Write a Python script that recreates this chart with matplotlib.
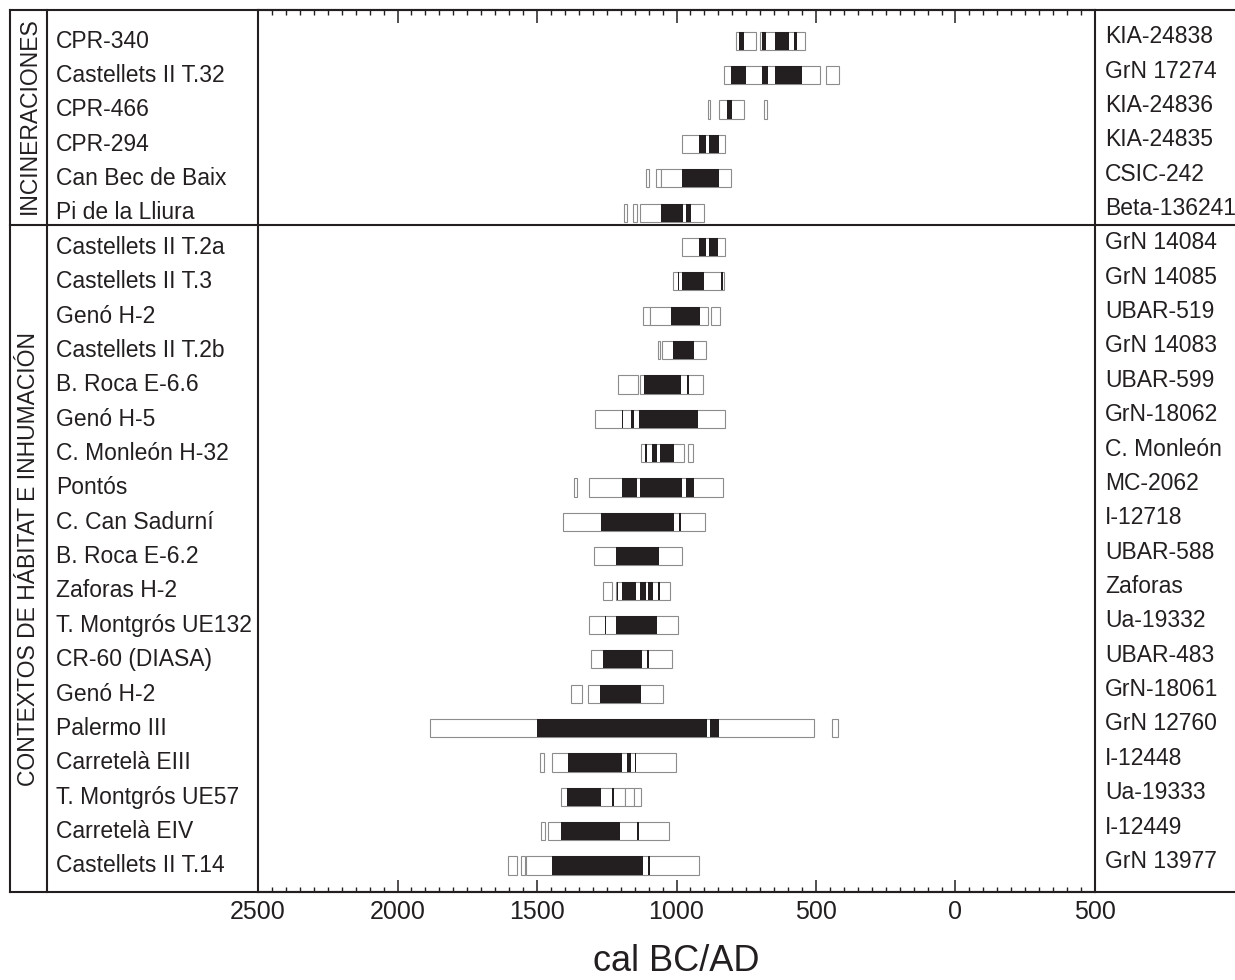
import numpy as np
import matplotlib
matplotlib.use('Agg')
import matplotlib.pyplot as plt
from matplotlib.lines import Line2D
from matplotlib.transforms import blended_transform_factory

plt.rcParams['font.family'] = ['Liberation Sans', 'DejaVu Sans']

# ---------------- data (cal BC; positive = BC, negative = AD) ----------------
samples = ['CPR-340', 'Castellets II T.32', 'CPR-466', 'CPR-294', 'Can Bec de Baix',
           'Pi de la Lliura', 'Castellets II T.2a', 'Castellets II T.3', 'Genó H-2',
           'Castellets II T.2b', 'B. Roca E-6.6', 'Genó H-5', 'C. Monleón H-32', 'Pontós',
           'C. Can Sadurní', 'B. Roca E-6.2', 'Zaforas H-2', 'T. Montgrós UE132',
           'CR-60 (DIASA)', 'Genó H-2', 'Palermo III', 'Carretelà EIII', 'T. Montgrós UE57',
           'Carretelà EIV', 'Castellets II T.14']

lab_codes = ['KIA-24838', 'GrN 17274', 'KIA-24836', 'KIA-24835', 'CSIC-242', 'Beta-136241',
             'GrN 14084', 'GrN 14085', 'UBAR-519', 'GrN 14083', 'UBAR-599', 'GrN-18062',
             'C. Monleón', 'MC-2062', 'I-12718', 'UBAR-588', 'Zaforas', 'Ua-19332',
             'UBAR-483', 'GrN-18061', 'GrN 12760', 'I-12448', 'Ua-19333', 'I-12449',
             'GrN 13977']

# 2-sigma ranges (white boxes)
range_2sigma = [
    [(788, 714), (700, 538)],
    [(829, 485), (465, 417)],
    [(888, 879), (847, 758), (685, 675)],
    [(979, 826)],
    [(1108, 1099), (1072, 1056), (1056, 805)],
    [(1187, 1179), (1156, 1143), (1131, 903)],
    [(979, 826)],
    [(1012, 831)],
    [(1119, 1095), (1095, 888), (878, 843)],
    [(1065, 1058), (1053, 895)],
    [(1209, 1139), (1131, 905)],
    [(1292, 827)],
    [(1127, 972), (959, 941)],
    [(1366, 1357), (1315, 835)],
    [(1406, 897)],
    [(1297, 979)],
    [(1262, 1230), (1217, 1023)],
    [(1315, 994)],
    [(1308, 1017)],
    [(1377, 1338), (1316, 1048)],
    [(1882, 507), (442, 420)],
    [(1490, 1476), (1446, 1001)],
    [(1413, 1186), (1186, 1151), (1151, 1128)],
    [(1487, 1473), (1461, 1026)],
    [(1603, 1572), (1558, 1542), (1539, 918)],
]

# 1-sigma ranges (black boxes)
range_1sigma = [
    [(776, 757), (694, 679), (647, 596), (579, 569)],
    [(805, 751), (693, 673), (647, 551)],
    [(820, 802)],
    [(919, 893), (883, 848)],
    [(980, 847)],
    [(1056, 977), (967, 948)],
    [(919, 893), (883, 851)],
    [(996, 990), (980, 902), (842, 835)],
    [(1019, 916)],
    [(1014, 936)],
    [(1118, 984), (962, 954)],
    [(1195, 1191), (1164, 1153), (1133, 924)],
    [(1114, 1105), (1089, 1070), (1059, 1008)],
    [(1196, 1143), (1131, 979), (966, 938)],
    [(1270, 1008), (990, 984)],
    [(1218, 1062)],
    [(1212, 1208), (1195, 1145), (1132, 1110), (1103, 1085), (1065, 1059)],
    [(1256, 1251), (1217, 1070)],
    [(1262, 1123), (1105, 1100)],
    [(1273, 1128)],
    [(1499, 892), (881, 848)],
    [(1388, 1195), (1176, 1162), (1149, 1144)],
    [(1391, 1270), (1231, 1225)],
    [(1414, 1202), (1142, 1136)],
    [(1447, 1119), (1102, 1095)],
]

groups = ['INCINERACIONES', 'CONTEXTOS DE HÁBITAT E INHUMACIÓN']

xticks_major = [2500, 2000, 1500, 1000, 500, 0, -500]
xtick_labels = ['2500', '2000', '1500', '1000', '500', '0', '500']
x_label = 'cal BC/AD'

# ---------------- layout ----------------
W, H = 1235, 980
INK = '#231f20'
fig = plt.figure(figsize=(W / 100, H / 100), dpi=100)

def fx(x):
    return x / W

def fy(y):
    return 1 - y / H

L, R, T, B = 258, 1095, 10, 892
ax = fig.add_axes([fx(L), fy(B), (R - L) / W, (B - T) / H])
ax.set_xlim(2500, -500)
ax.set_ylim(24.77, -0.896)

bar_h = 0.53
for i, (wr, br) in enumerate(zip(range_2sigma, range_1sigma)):
    for a, b in wr:
        ax.barh(i, a - b, left=b, height=bar_h, color='white',
                edgecolor='#8c8c8c', linewidth=0.8, zorder=2)
    for a, b in br:
        ax.barh(i, a - b, left=b, height=bar_h, color=INK,
                edgecolor='none', linewidth=0, zorder=3)

ax.set_xticks(xticks_major)
ax.set_xticklabels(xtick_labels, fontsize=18, color=INK)
ax.set_xticks(np.arange(-500, 2501, 50), minor=True)
ax.tick_params(axis='x', which='major', direction='in', length=9, width=1.1,
               top=True, bottom=True, pad=5.5, color=INK)
ax.tick_params(axis='x', which='minor', direction='in', length=3.6, width=1.0,
               top=True, bottom=True, color=INK)
ax.set_yticks([])
for s in ax.spines.values():
    s.set_linewidth(1.5)
    s.set_color(INK)

# frame lines
def hline(y, x0, x1):
    fig.add_artist(Line2D([fx(x0), fx(x1)], [fy(y), fy(y)], transform=fig.transFigure,
                          color=INK, linewidth=1.5, zorder=10))

def vline(x, y0, y1):
    fig.add_artist(Line2D([fx(x), fx(x)], [fy(y0), fy(y1)], transform=fig.transFigure,
                          color=INK, linewidth=1.5, zorder=10))

hline(10, 10, 1235)
hline(892, 10, 1235)
hline(225, 10, 1235)
vline(10, 10, 892)
vline(47, 10, 892)

# row labels
trans = blended_transform_factory(fig.transFigure, ax.transData)
for i, (s, c) in enumerate(zip(samples, lab_codes)):
    ax.text(fx(56), i + 0.2, s, transform=trans, ha='left', va='baseline',
            fontsize=16.5, color=INK, clip_on=False)
    ax.text(fx(1105), i + 0.07, c, transform=trans, ha='left', va='baseline',
            fontsize=16.5, color=INK, clip_on=False)

# group labels
fig.text(fx(29), fy(116), groups[0], rotation=90, ha='center', va='center',
         fontsize=16.5, color=INK)
fig.text(fx(29), fy(559), groups[1], rotation=90, ha='center', va='center',
         fontsize=16.5, color=INK)

fig.text(fx(676.5), fy(971), x_label, ha='center', va='baseline', fontsize=26, color=INK)

fig.savefig('out.png', dpi=100)
